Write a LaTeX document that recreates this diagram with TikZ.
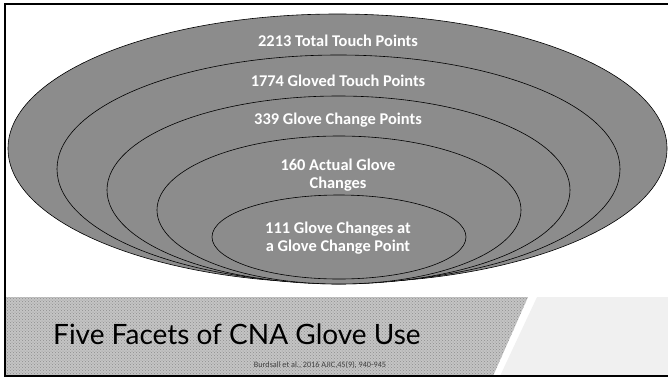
\documentclass[tikz,border=0pt]{standalone}
\usepackage{fontspec}
\setmainfont{Carlito}
\newfontfamily\titlefont{Lato}
\usetikzlibrary{patterns}

\begin{document}
\begin{tikzpicture}[x=1pt, y=-1pt,
    ring/.style={fill=ringFill, draw=black, line width=0.6pt},
    ringlabel/.style={text=white, align=center, font=\fontsize{16.4}{18.5}\selectfont\bfseries}]

    \definecolor{ringFill}{HTML}{8C8C8C}
    \definecolor{bannerGray}{HTML}{C4C4C4}
    \definecolor{dotGray}{HTML}{8E8E8E}
    \definecolor{panelGray}{HTML}{F0F0F0}
    \definecolor{citeGray}{HTML}{404040}

    \useasboundingbox (0,0) rectangle (668,378);

    % Draw nested rings, outer first
    \foreach \cx/\cy/\rx/\ry in {337.5/148.5/329.5/134.5, 338.5/169/281.5/114,
        338.5/190/231.5/94, 339/210/182/74, 339/237/127/42}
        \draw[ring] (\cx,\cy) ellipse ({\rx} and {\ry});

    % Ring labels
    \node[ringlabel] (total) at (338,41) {2213 Total Touch Points};
    \node[ringlabel] (gloved) at (338,81) {1774 Gloved Touch Points};
    \node[ringlabel] (changepts) at (338,120) {339 Glove Change Points};
    \node[ringlabel] (actual) at (338,175) {160 Actual Glove\\Changes};
    \node[ringlabel] (atpoint) at (338,238) {111 Glove Changes at\\a Glove Change Point};

    % Title banner
    \fill[bannerGray] (5,297) -- (528,297) -- (493,376) -- (5,376) -- cycle;
    \fill[pattern=crosshatch dots, pattern color=dotGray] (5,297) -- (528,297) -- (493,376) -- (5,376) -- cycle;
    \fill[panelGray] (537,297) -- (670,297) -- (670,376) -- (500,376) -- cycle;

    \node[anchor=base west, inner sep=0pt, font=\titlefont\fontsize{28}{30}\selectfont] (title) at (53,344) {Five Facets of CNA Glove Use};
    \node[text=citeGray, font=\fontsize{8.2}{10}\selectfont] (cite) at (320,365) {Burdsall et al., 2016 AJIC,45(9), 940-945};

    % Slide frame
    \draw[line width=2pt] (5,4) rectangle (671,376);

\end{tikzpicture}
\end{document}
